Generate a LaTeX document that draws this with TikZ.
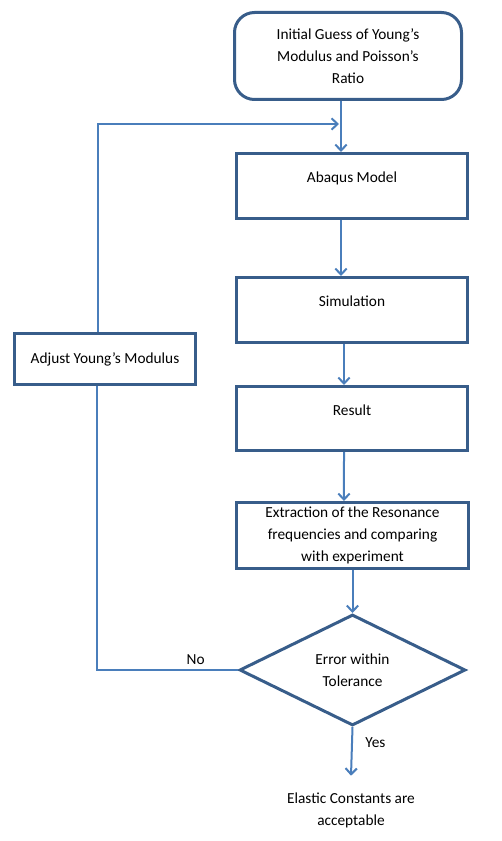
\documentclass[tikz,border=0pt]{standalone}
\usepackage{fontspec}
\setmainfont{Carlito}
\usepackage{tikz}
\usetikzlibrary{arrows.meta}
\usetikzlibrary{calc}
\usetikzlibrary{positioning}
\usetikzlibrary{shapes.geometric}

\definecolor{boxblue}{HTML}{385D8A}
\definecolor{lineblue}{HTML}{4A7EBB}

\begin{document}
\begin{tikzpicture}[
	x=0.75pt, y=-0.75pt,
	every node/.style={font=\fontsize{11.5pt}{16.5pt}\selectfont, align=center},
  > = {Straight Barb[length=4.5pt,width=8.5pt]},
  stepbox/.style = {draw=boxblue, line width=2.25pt, rectangle, minimum width=173.25pt, minimum height=48.75pt},
  raised/.style = {text depth=13pt},
  flow/.style = {->, draw=lineblue, line width=1.5pt},
  link/.style = {draw=lineblue, line width=1.5pt}
  ]
	\useasboundingbox (0,0) rectangle (501,841);

	\coordinate (@back) at (98,124);
	\coordinate (@join) at (339,124);
	\coordinate (@no) at (97,670);

	\node[stepbox, rounded corners=15pt, minimum width=170.25pt, minimum height=65.25pt] (init) at (348,56) {Initial Guess of Young’s\\Modulus and Poisson’s\\Ratio};
	\node[stepbox, raised] (abaqus) at (352,186) {Abaqus Model};
	\node[stepbox, raised] (sim) at (352,310) {Simulation};
	\node[stepbox, raised, minimum height=48pt] (result) at (352,418.5) {Result};
	\node[stepbox, minimum width=174pt, minimum height=48pt] (extract) at (352.5,535.5) {Extraction of the Resonance\\frequencies and comparing\\with experiment};
	\node[stepbox, minimum width=135.75pt, minimum height=38.25pt] (adjust) at (105,359) {Adjust Young’s Modulus};
	\node[diamond, draw=boxblue, line width=2.25pt, aspect=2, minimum width=169.5pt, minimum height=83.25pt, inner sep=0pt] (check) at (352.5,670) {Error within\\Tolerance};
	\node (final) at (351,810) {Elastic Constants are\\acceptable};

	\draw[flow] ([xshift=-5.25pt]init.south) -- ([xshift=-8.25pt]abaqus.north);
	\draw[flow] ([xshift=-8.25pt]abaqus.south) -- ([xshift=-8.25pt]sim.north);
	\draw[flow] ([xshift=-6pt]sim.south) -- ([xshift=-6pt]result.north);
	\draw[flow] ([xshift=-6pt]result.south) -- ([xshift=-6.4pt]extract.north);
	\draw[flow] (extract.south) -- (check.north);
	\draw[flow] (check.south) -- node[right=6pt, pos=0.33] {Yes} ([yshift=9pt]final.north);

	\draw[link] (check.west) -- node[above, pos=0.3] {No} (@no) -- (@no |- adjust.south);
	\draw[flow] (adjust.north -| @back) -- (@back) -- (@join);

\end{tikzpicture}
\end{document}
